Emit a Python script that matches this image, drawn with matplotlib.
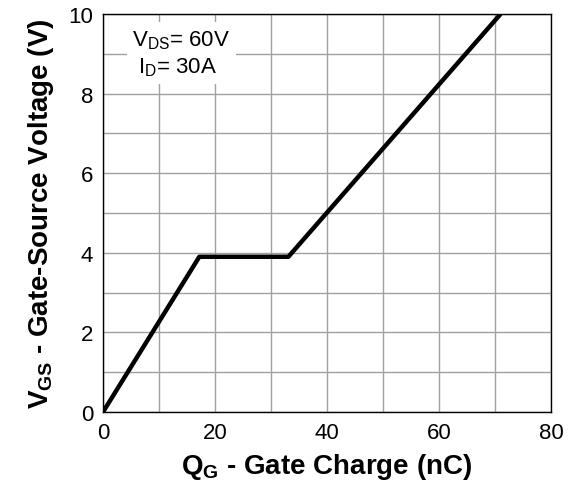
import matplotlib
matplotlib.use("Agg")
import matplotlib.pyplot as plt
from matplotlib.ticker import MultipleLocator

plt.rcParams['font.family'] = ['Liberation Sans', 'DejaVu Sans']
plt.rcParams['mathtext.fontset'] = 'custom'
plt.rcParams['mathtext.rm'] = 'Liberation Sans'
plt.rcParams['mathtext.it'] = 'Liberation Sans'
plt.rcParams['mathtext.bf'] = 'Liberation Sans:bold'

# Gate charge curve (nC vs V)
qg = [0, 17.2, 33.1, 71.0]
vgs = [0, 3.9, 3.9, 10.0]

x_ticks = [0, 20, 40, 60, 80]
y_ticks = [0, 2, 4, 6, 8, 10]


def main():
    fig = plt.figure(figsize=(5.71, 4.89), dpi=100)
    ax = fig.add_axes([103 / 571, 76 / 489, 448 / 571, 398 / 489])

    ax.plot(qg, vgs, color='black', lw=3.2, solid_capstyle='butt', zorder=3)

    ax.set_xlim(0, 80)
    ax.set_ylim(0, 10)
    ax.set_xticks(x_ticks)
    ax.set_yticks(y_ticks)
    ax.xaxis.set_minor_locator(MultipleLocator(10))
    ax.yaxis.set_minor_locator(MultipleLocator(1))
    ax.grid(which='both', color='#a0a0a0', lw=1.0)
    ax.tick_params(which='both', length=0, labelsize=16)
    ax.tick_params(axis='y', pad=7)
    ax.tick_params(axis='x', pad=7)
    for s in ax.spines.values():
        s.set_linewidth(1.0)

    ax.set_xlabel(r"$\mathbf{Q_G}$ - Gate Charge (nC)", fontsize=20,
                  fontweight='bold', labelpad=6)
    ax.set_ylabel(r"$\mathbf{V_{GS}}$ - Gate-Source Voltage (V)", fontsize=20,
                  fontweight='bold', labelpad=9)

    ax.text(0.065, 0.965, "V$_{DS}$= 60V\n I$_{D}$= 30A", transform=ax.transAxes,
            fontsize=16, va='top', ha='left', linespacing=1.3, zorder=4,
            bbox=dict(facecolor='white', edgecolor='none', pad=4))

    fig.savefig("out.png", dpi=100)


if __name__ == "__main__":
    main()
